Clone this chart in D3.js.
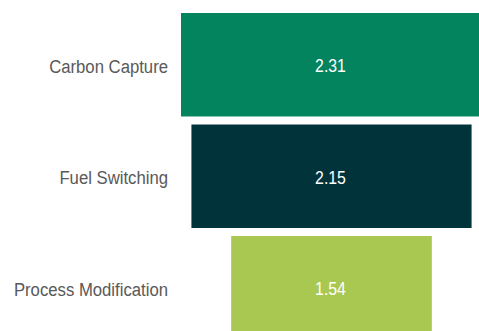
<!DOCTYPE html>
<html>
<head>
<meta charset="utf-8">
<script src="https://cdn.jsdelivr.net/npm/d3@7"></script>
<style>
  html, body { margin: 0; padding: 0; background: #ffffff; overflow: hidden; }
  svg { display: block; }
</style>
</head>
<body>
<svg id="chart" width="479" height="331"></svg>
<script>
// Abatement options and their values
const categories = ["Carbon Capture", "Fuel Switching", "Process Modification"];
const values = [2.31, 2.15, 1.54];
const colors = ["#03845f", "#01343a", "#a9c852"];

const svg = d3.select("#chart");
const W = 479, H = 331;
const FONT = "'Liberation Sans', Arial, Helvetica, sans-serif";
const condense = 0.88; // narrow the glyphs horizontally

svg.append("rect").attr("width", W).attr("height", H).attr("fill", "#ffffff");

// Bars are centred on a common axis, like a funnel
const centerX = 331.5;
const widthScale = d3.scaleLinear().domain([0, 2.31]).range([0, 301]);

const y = d3.scaleBand()
  .domain(categories)
  .range([13, 339.5])
  .paddingInner(0.072)
  .paddingOuter(0);

const rows = categories.map((c, i) => ({ name: c, value: values[i], color: colors[i] }));

svg.append("g").selectAll("rect")
  .data(rows)
  .join("rect")
  .attr("x", d => centerX - widthScale(d.value) / 2)
  .attr("y", d => y(d.name))
  .attr("width", d => widthScale(d.value))
  .attr("height", y.bandwidth())
  .attr("fill", d => d.color);

// Value labels inside the bars
svg.append("g").selectAll("text")
  .data(rows)
  .join("text")
  .attr("transform", d => `translate(${centerX - 1},${y(d.name) + y.bandwidth() / 2 + 1}) scale(${condense},1)`)
  .attr("dy", "0.35em")
  .attr("text-anchor", "middle")
  .attr("font-family", FONT)
  .attr("font-size", 18)
  .attr("fill", "#ffffff")
  .text(d => d.value.toFixed(2));

// Category labels on the left
svg.append("g").selectAll("text")
  .data(rows)
  .join("text")
  .attr("transform", d => `translate(168,${y(d.name) + y.bandwidth() / 2 + 1.5}) scale(${condense},1)`)
  .attr("dy", "0.35em")
  .attr("text-anchor", "end")
  .attr("font-family", FONT)
  .attr("font-size", 19)
  .attr("fill", "#595959")
  .text(d => d.name);
</script>
</body>
</html>
